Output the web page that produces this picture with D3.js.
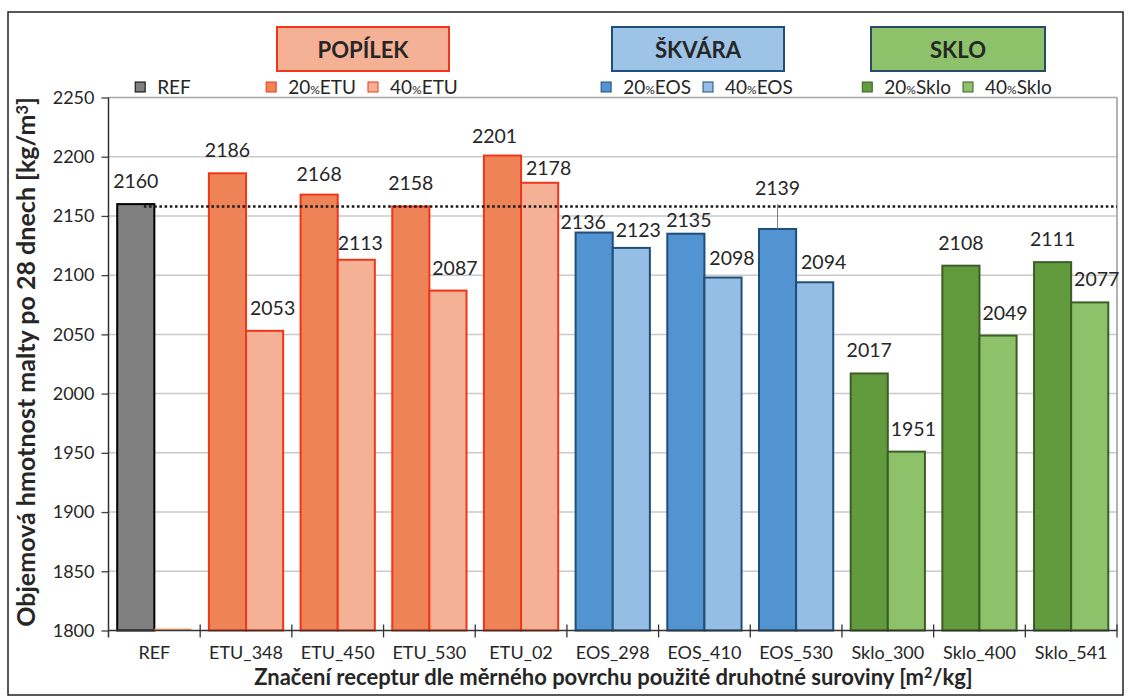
<!DOCTYPE html>
<html>
<head>
<meta charset="utf-8">
<script src="https://cdn.jsdelivr.net/npm/d3@7"></script>
<style>
  body { margin: 0; background: #fff; }
  text { font-family: Lato, "Open Sans", sans-serif; fill: #262626; }
</style>
</head>
<body>
<div id="chart"></div>
<script>
/* ---------- data ---------- */
const categories = ['REF', 'ETU_348', 'ETU_450', 'ETU_530', 'ETU_02', 'EOS_298', 'EOS_410', 'EOS_530', 'Sklo_300', 'Sklo_400', 'Sklo_541'];
const values20 = [2160, 2186, 2168, 2158, 2201, 2136, 2135, 2139, 2017, 2108, 2111];
const values40 = [null, 2053, 2113, 2087, 2178, 2123, 2098, 2094, 1951, 2049, 2077];
const refLineValue = 2158;
const yTicks = [1800, 1850, 1900, 1950, 2000, 2050, 2100, 2150, 2200, 2250];
const groupTitles = ['POPÍLEK', 'ŠKVÁRA', 'SKLO'];
const legendGroups = [
  [{ key: 'REF', lvl: '20', pre: 'REF', pct: '', post: '' }],
  [{ key: 'ETU', lvl: '20', pre: '20', pct: '%', post: 'ETU' }, { key: 'ETU', lvl: '40', pre: '40', pct: '%', post: 'ETU' }],
  [{ key: 'EOS', lvl: '20', pre: '20', pct: '%', post: 'EOS' }, { key: 'EOS', lvl: '40', pre: '40', pct: '%', post: 'EOS' }],
  [{ key: 'Sklo', lvl: '20', pre: '20', pct: '%', post: 'Sklo' }, { key: 'Sklo', lvl: '40', pre: '40', pct: '%', post: 'Sklo' }],
];

/* ---------- styles ---------- */
const palette = {
  REF: { '20': '#808080', '40': '#f4b195', stroke: '#000000', stroke40: '#f3a673' },
  ETU: { '20': '#ef8358', '40': '#f5b195', stroke: '#f0361a' },
  EOS: { '20': '#5294d2', '40': '#94bee4', stroke: '#1f4e79' },
  Sklo: { '20': '#629a3e', '40': '#8dc26a', stroke: '#3b5e25' },
};
const headerStyle = [
  { cx: 363, w: 172, fill: '#f5b195', stroke: '#f0361a' },
  { cx: 698, w: 172, fill: '#9dc3e6', stroke: '#1f4e79' },
  { cx: 958, w: 174, fill: '#8dc26a', stroke: '#2a4a6b' },
];
const legendCenters = [163, 362, 697, 957];
// manual nudges of data labels [dx, gap above bar]
const labelNudge = {
  'ETU_348|40': [8, 16], 'ETU_450|20': [0, 14], 'ETU_450|40': [4, 10],
  'ETU_02|20': [-8, 13], 'ETU_02|40': [9, 8],
  'EOS_298|20': [-11, 4], 'EOS_298|40': [7, 11],
  'EOS_410|20': [3, 7], 'EOS_410|40': [9, 13],
  'EOS_530|20': [0, 34], 'EOS_530|40': [9, 13],
};

const W = 1129, H = 697;
const plot = { left: 108.5, right: 1117, top: 97.5, bottom: 630.5 };

const svg = d3.select('#chart').append('svg').attr('width', W).attr('height', H);
svg.append('rect').attr('width', W).attr('height', H).attr('fill', '#fff');
svg.append('rect')
  .attr('x', 8).attr('y', 12).attr('width', 1115).attr('height', 683)
  .attr('fill', 'none').attr('stroke', '#222').attr('stroke-width', 1.5);

function fitText(sel, width) {
  const fs = parseFloat(sel.style('font-size'));
  const len = sel.node().getComputedTextLength();
  const size = (fs * width) / len;
  sel.style('font-size', size + 'px');
  return size;
}

/* ---------- scales ---------- */
const y = d3.scaleLinear().domain([1800, 2250]).range([plot.bottom, plot.top]);
const x0 = d3.scaleBand().domain(categories).range([plot.left, plot.right])
  .paddingInner(0.19).paddingOuter(0.095);
const x1 = d3.scaleBand().domain(['20', '40']).range([0, x0.bandwidth()]);
const xEdge = d3.scaleLinear().domain([0, categories.length]).range([plot.left, plot.right]);

/* ---------- grid ---------- */
svg.append('g').selectAll('line').data(yTicks.filter((d) => d > 1800)).join('line')
  .attr('x1', plot.left).attr('x2', plot.right)
  .attr('y1', (d) => y(d)).attr('y2', (d) => y(d))
  .attr('stroke', (d) => (d === 2250 ? '#a6a6a6' : '#c9c9c9')).attr('stroke-width', 1.5);
svg.append('line')
  .attr('x1', plot.right).attr('x2', plot.right).attr('y1', plot.top).attr('y2', plot.bottom)
  .attr('stroke', '#9a9a9a').attr('stroke-width', 1.5);

/* ---------- bars ---------- */
const material = (c) => c.split('_')[0];
const rows = [];
categories.forEach((c, i) => {
  rows.push({ cat: c, lvl: '20', v: values20[i] });
  rows.push({ cat: c, lvl: '40', v: values40[i] });
});

const barG = svg.append('g');
rows.forEach((r) => {
  const p = palette[material(r.cat)];
  const bx = x0(r.cat) + x1(r.lvl);
  if (r.v == null) {
    // empty slot drawn as a flat bar on the baseline
    barG.append('line')
      .attr('x1', bx).attr('x2', bx + x1.bandwidth())
      .attr('y1', y(1800) - 1).attr('y2', y(1800) - 1)
      .attr('stroke', p.stroke40).attr('stroke-width', 2);
    return;
  }
  barG.append('rect')
    .attr('x', bx).attr('width', x1.bandwidth())
    .attr('y', y(r.v)).attr('height', y(1800) - y(r.v))
    .attr('fill', p[r.lvl]).attr('stroke', p.stroke).attr('stroke-width', 2);
});

/* ---------- axes ---------- */
const yAxis = d3.axisLeft(y).tickValues(yTicks).tickFormat(d3.format('d'))
  .tickSize(7).tickSizeOuter(0).tickPadding(7);
const yAxisG = svg.append('g').attr('transform', `translate(${plot.left},0)`).call(yAxis);
yAxisG.select('.domain').remove();
yAxisG.selectAll('line').attr('stroke', '#404040').attr('stroke-width', 1.3);
yAxisG.selectAll('text').style('font-size', '18px').attr('fill', '#262626');
svg.append('line')
  .attr('x1', plot.left).attr('x2', plot.left).attr('y1', plot.top).attr('y2', plot.bottom + 7)
  .attr('stroke', '#333').attr('stroke-width', 1.5);

const xAxis = d3.axisBottom(x0).tickSize(0).tickPadding(16);
const xAxisG = svg.append('g').attr('transform', `translate(0,${plot.bottom})`).call(xAxis);
xAxisG.select('.domain').remove();
xAxisG.selectAll('text').style('font-size', '18px').attr('fill', '#262626');
svg.append('line')
  .attr('x1', plot.left).attr('x2', plot.right).attr('y1', plot.bottom).attr('y2', plot.bottom)
  .attr('stroke', '#333').attr('stroke-width', 1.5);
svg.append('g').selectAll('line').data(d3.range(1, categories.length + 1)).join('line')
  .attr('x1', (d) => xEdge(d)).attr('x2', (d) => xEdge(d))
  .attr('y1', plot.bottom - 6).attr('y2', plot.bottom + 7)
  .attr('stroke', '#333').attr('stroke-width', 1.3);

/* ---------- reference line ---------- */
const refCenter = x0('REF') + x1('20') + x1.bandwidth() / 2;
svg.append('line')
  .attr('x1', refCenter + 8).attr('x2', plot.right)
  .attr('y1', y(refLineValue)).attr('y2', y(refLineValue))
  .attr('stroke', '#1a1a1a').attr('stroke-width', 2.6).attr('stroke-dasharray', '2.6,2.6');

/* ---------- data labels ---------- */
const labelG = svg.append('g');
rows.filter((r) => r.v != null).forEach((r) => {
  const key = r.cat + '|' + r.lvl;
  const [dx, gap] = labelNudge[key] || [r.lvl === '40' ? 7 : 0, 16];
  const cx = x0(r.cat) + x1(r.lvl) + x1.bandwidth() / 2 + dx;
  const by = y(r.v) - gap;
  labelG.append('text')
    .attr('x', cx).attr('y', by)
    .attr('text-anchor', 'middle').style('font-size', '19.5px')
    .text(r.v);
  if (gap > 30) {
    labelG.append('line')
      .attr('x1', cx).attr('x2', cx).attr('y1', by + 9).attr('y2', y(r.v))
      .attr('stroke', '#7f7f7f').attr('stroke-width', 1);
  }
});

/* ---------- axis titles ---------- */
const xTitle = svg.append('text')
  .attr('x', 613.5).attr('y', 685).attr('text-anchor', 'middle')
  .style('font-size', '20px').style('font-weight', 'bold').attr('fill', '#000');
xTitle.append('tspan').text('Značení receptur dle měrného povrchu použité druhotné suroviny [m');
xTitle.append('tspan').attr('dy', -7).style('font-size', '0.65em').text('2');
xTitle.append('tspan').attr('dy', 7).text('/kg]');
fitText(xTitle, 719);

const yTitle = svg.append('text')
  .attr('transform', 'translate(35,362) rotate(-90)').attr('text-anchor', 'middle')
  .style('font-size', '20px').style('font-weight', 'bold').attr('fill', '#000');
yTitle.append('tspan').text('Objemová hmotnost malty po 28 dnech [kg/m');
yTitle.append('tspan').attr('dy', -7).style('font-size', '0.65em').text('3');
yTitle.append('tspan').attr('dy', 7).text(']');
fitText(yTitle, 530);

/* ---------- group header boxes ---------- */
let headerSize = 22;
groupTitles.forEach((t, i) => {
  const s = headerStyle[i];
  svg.append('rect')
    .attr('x', s.cx - s.w / 2).attr('y', 27).attr('width', s.w).attr('height', 44)
    .attr('fill', s.fill).attr('stroke', s.stroke).attr('stroke-width', 2);
  const txt = svg.append('text')
    .attr('x', s.cx).attr('y', 57.5).attr('text-anchor', 'middle')
    .style('font-size', headerSize + 'px').style('font-weight', 'bold').attr('fill', '#000')
    .text(t);
  if (i === 0) headerSize = fitText(txt, 91);
});

/* ---------- legend ---------- */
legendGroups.forEach((items, gi) => {
  const g = svg.append('g');
  let cursor = 0;
  items.forEach((it) => {
    const p = palette[it.key];
    g.append('rect')
      .attr('x', cursor).attr('y', 82).attr('width', 10).attr('height', 10)
      .attr('fill', p[it.lvl]).attr('stroke', p.stroke).attr('stroke-width', 1);
    const t = g.append('text').attr('x', cursor + 22).attr('y', 93.5).style('font-size', '19px');
    t.append('tspan').text(it.pre);
    if (it.pct) t.append('tspan').style('font-size', '12px').text(it.pct);
    if (it.post) t.append('tspan').text(it.post);
    cursor += 22 + t.node().getComputedTextLength() + 12;
  });
  const w = cursor - 12;
  g.attr('transform', `translate(${legendCenters[gi] - w / 2},0)`);
});
</script>
</body>
</html>
